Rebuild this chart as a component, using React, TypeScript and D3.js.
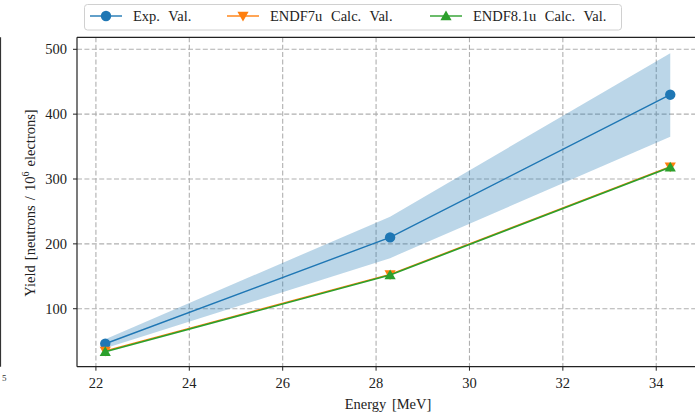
import React from 'react';
import * as d3 from 'd3';

const energies = [22.2, 28.3, 34.3];
const expVal = [46, 210, 430];
const expLow = [39, 178, 365];
const expHigh = [53, 242, 494];
const endf7u = [35, 153, 319];
const endf81u = [33.5, 152, 318];
const xTicks = [22, 24, 26, 28, 30, 32, 34];
const yTicks = [100, 200, 300, 400, 500];

const W = 695;
const H = 414;
const left = 77;
const right = 698.5;
const top = 37.3;
const bottom = 366.7;
const font = '"Liberation Serif", serif';

const blue = '#1f77b4';
const orange = '#ff7f0e';
const green = '#2ca02c';

const App = () => {
  const x = d3.scaleLinear().domain([21.595, 34.905]).range([left, right]);
  const y = d3.scaleLinear().domain([10.6, 518.5]).range([bottom, top]);

  const line = d3.line<number>()
    .x((d, i) => x(energies[i]))
    .y(d => y(d));

  const band = d3.area<number>()
    .x((d, i) => x(energies[i]))
    .y0((d, i) => y(expLow[i]))
    .y1(d => y(d));

  const tri = (up: boolean) => {
    const s = 5.6;
    return up
      ? `M0,${-s} L${s},${s * 0.75} L${-s},${s * 0.75} Z`
      : `M0,${s} L${s},${-s * 0.75} L${-s},${-s * 0.75} Z`;
  };

  const legendItems = [
    { label: 'Exp. Val.', color: blue, kind: 'circle', x0: 90, tx: 133 },
    { label: 'ENDF7u Calc. Val.', color: orange, kind: 'down', x0: 227, tx: 270 },
    { label: 'ENDF8.1u Calc. Val.', color: green, kind: 'up', x0: 430, tx: 473 },
  ];

  const marker = (kind: string, color: string) =>
    kind === 'circle'
      ? <circle r={5.2} fill={color} />
      : <path d={tri(kind === 'up')} fill={color} />;

  return (
    <svg width={W} height={H} style={{ position: 'absolute', left: 0, top: 0, background: '#fff' }}>
      <defs>
        <clipPath id="plot">
          <rect x={left} y={top} width={right - left} height={bottom - top} />
        </clipPath>
      </defs>

      {/* leftover from neighbouring panel */}
      <line x1={0.5} x2={0.5} y1={top} y2={bottom} stroke="#333" strokeWidth={1.2} />
      <text x={2} y={381} fontSize={9} fontFamily={font} fill="#333">5</text>

      {/* grid */}
      <g stroke="#b0b0b0" strokeWidth={1.1} strokeDasharray="5,2.4">
        {xTicks.map(t => (
          <line key={'gx' + t} x1={x(t)} x2={x(t)} y1={top} y2={bottom} />
        ))}
        {yTicks.map(t => (
          <line key={'gy' + t} x1={left} x2={right} y1={y(t)} y2={y(t)} />
        ))}
      </g>

      <g clipPath="url(#plot)">
        <path d={band(expHigh) || ''} fill={blue} fillOpacity={0.3} />
        <path d={line(expVal) || ''} fill="none" stroke={blue} strokeWidth={1.4} />
        {expVal.map((v, i) => (
          <circle key={'e' + i} cx={x(energies[i])} cy={y(v)} r={5.2} fill={blue} />
        ))}
        <path d={line(endf7u) || ''} fill="none" stroke={orange} strokeWidth={1.4} />
        {endf7u.map((v, i) => (
          <path key={'o' + i} d={tri(false)} transform={`translate(${x(energies[i])},${y(v)})`} fill={orange} />
        ))}
        <path d={line(endf81u) || ''} fill="none" stroke={green} strokeWidth={1.6} />
        {endf81u.map((v, i) => (
          <path key={'g' + i} d={tri(true)} transform={`translate(${x(energies[i])},${y(v)})`} fill={green} />
        ))}
      </g>

      {/* spines */}
      <g stroke="#222" strokeWidth={1.2} fill="none">
        <line x1={left} x2={left} y1={top} y2={bottom} />
        <line x1={left} x2={right} y1={bottom} y2={bottom} />
        <line x1={left} x2={right} y1={top} y2={top} />
        <line x1={right} x2={right} y1={top} y2={bottom} />
      </g>

      {/* x ticks */}
      {xTicks.map(t => (
        <g key={'xt' + t} transform={`translate(${x(t)},${bottom})`}>
          <line y1={0} y2={4} stroke="#222" strokeWidth={1} />
          <text y={21} textAnchor="middle" fontSize={14.5} fontFamily={font} fill="#222">{t}</text>
        </g>
      ))}
      {yTicks.map(t => (
        <g key={'yt' + t} transform={`translate(${left},${y(t)})`}>
          <line x1={-4} x2={0} stroke="#222" strokeWidth={1} />
          <text x={-10} dy="0.35em" textAnchor="end" fontSize={14.5} fontFamily={font} fill="#222">{t}</text>
        </g>
      ))}

      <text x={388} y={409} textAnchor="middle" fontSize={14.5} fontFamily={font} fill="#222" wordSpacing={2}>Energy [MeV]</text>
      <text transform="translate(35,203) rotate(-90)" textAnchor="middle" fontSize={14.5} fontFamily={font} fill="#222" wordSpacing={1.5}>
        Yield [neutrons / 10<tspan dy={-6} fontSize={10}>6</tspan><tspan dy={6}> electrons]</tspan>
      </text>

      {/* legend */}
      <rect x={84.5} y={4.5} width={537} height={25.5} rx={3} fill="#fff" stroke="#d0d0d0" strokeWidth={1} />
      {legendItems.map(it => (
        <g key={it.label}>
          <line x1={it.x0} x2={it.x0 + 32} y1={16} y2={16} stroke={it.color} strokeWidth={1.4} />
          <g transform={`translate(${it.x0 + 16},16)`}>{marker(it.kind, it.color)}</g>
          <text x={it.tx} y={21} fontSize={14.5} fontFamily={font} fill="#222" wordSpacing={5}>{it.label}</text>
        </g>
      ))}
    </svg>
  );
};

export default App;
